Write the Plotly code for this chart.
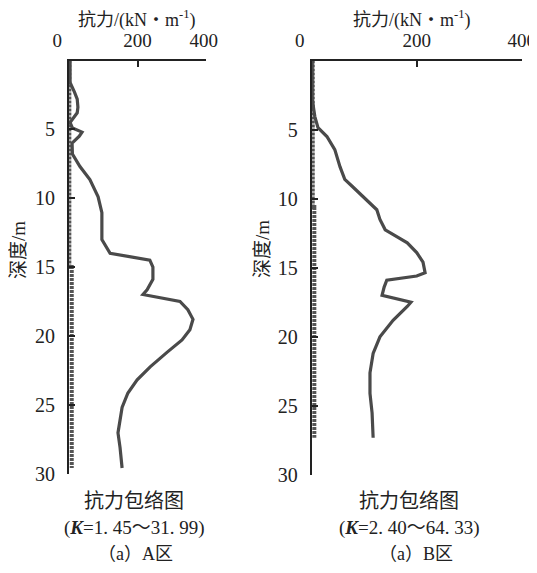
import plotly.graph_objects as go

# ---- data ----
depth_A = [0, 1.6, 2.3, 2.8, 3.4, 3.8, 4.5, 4.9, 5.2, 5.5, 6.0, 6.8, 7.7, 8.65, 9.9, 11.05,
           13.0, 14.0, 14.5, 15.0, 15.9, 16.65, 17.0, 17.2, 17.5, 18.1, 18.8, 19.55, 20.3,
           21.2, 22.25, 23.2, 24.15, 25.2, 26.1, 27.05, 28.1, 29.6]
force_A = [3, 3, 16, 24, 26, 24, 3, 10, 38, 30, 9, 10, 32, 61, 85, 96,
           96, 120, 236, 245, 245, 228, 216, 257, 324, 347, 362, 353, 330,
           286, 237, 199, 172, 155, 149, 143, 149, 155]

depth_B = [0, 2.8, 4.06, 4.86, 5.5, 6.45, 7.7, 8.6, 9.1, 10.1, 10.8, 11.5, 12.25, 12.75,
           13.2, 13.9, 14.6, 15.36, 15.6, 15.9, 16.4, 17.0, 17.5, 17.8, 18.8, 20.0, 21.2,
           22.6, 24.1, 25.5, 27.3]
force_B = [1, 1, 6, 12, 29, 44, 54, 63, 77, 105, 124, 130, 140, 162,
           182, 200, 212, 216, 200, 143, 138, 134, 189, 182, 155, 130, 117,
           111, 111, 115, 117]

low_depth_A = [0, 15, 15, 29.6]
low_force_A = [1, 1, 8, 8]
low_depth_B = [0, 10.6, 10.6, 27.3]
low_force_B = [2, 2, 5, 5]

x_ticks = [0, 200, 400]
NB = "\u00a0"
x_ticktext_A = ["0" + NB * 5, "200", "400" + NB]
x_ticktext_B = ["0" + NB * 5, "200", "400"]
y_ticks = [0, 5, 10, 15, 20, 25, 30]
y_ticktext = ["", "5", "10", "15", "20", "25", "30"]

x_title = "抗力/(kN・m<sup>-1</sup>)"
y_title = "深度/m"
sub1 = "抗力包络图"
k_A = "(<b><i>K</i></b>=1. 45～31. 99)"
k_B = "(<b><i>K</i></b>=2. 40～64. 33)"
cap_A = "（a）A区"
cap_B = "（a）B区"

# page body has an 8px default margin; the figure is sized to fit the window
OFF = 8
W, H = 537 - OFF, 573 - 2 * OFF
FONT = "Liberation Serif, Noto Sans CJK SC"
CURVE = "#4a4a4a"

fig = go.Figure()
fig.add_trace(go.Scatter(x=low_force_A, y=low_depth_A, mode="lines", xaxis="x", yaxis="y",
                         line=dict(color="#555555", width=4, dash="3px,1px"), showlegend=False))
fig.add_trace(go.Scatter(x=force_A, y=depth_A, mode="lines", xaxis="x", yaxis="y",
                         line=dict(color=CURVE, width=3.2), showlegend=False))
fig.add_trace(go.Scatter(x=low_force_B, y=low_depth_B, mode="lines", xaxis="x2", yaxis="y2",
                         line=dict(color="#555555", width=4, dash="3px,1px"), showlegend=False))
fig.add_trace(go.Scatter(x=force_B, y=depth_B, mode="lines", xaxis="x2", yaxis="y2",
                         line=dict(color=CURVE, width=3.2), showlegend=False))

def px(x):
    return (x - OFF) / W

def py(y):
    return 1 - (y - OFF) / H

xcommon = dict(range=[0, 400], side="top", tickvals=x_ticks,
               ticks="inside", ticklen=6, automargin=False, ticklabeloverflow="allow",
               tickwidth=1.5, tickcolor="#222", showline=True, linecolor="#222", linewidth=2,
               showgrid=False, zeroline=False, tickfont=dict(family=FONT, size=19, color="#222"),
               ticklabelstandoff=4)
ycommon = dict(range=[30, 0], tickvals=y_ticks, ticktext=y_ticktext, ticks="inside", ticklen=6,
               automargin=False, ticklabeloverflow="allow",
               tickwidth=1.5, tickcolor="#222", showline=True, linecolor="#222", linewidth=2,
               showgrid=False, zeroline=False, tickfont=dict(family=FONT, size=20, color="#222"),
               ticklabelstandoff=8)

fig.update_layout(
    width=W, height=H, margin=dict(l=0, r=0, t=0, b=0, autoexpand=False),
    paper_bgcolor="white", plot_bgcolor="white",
    font=dict(family=FONT, color="#222"),
    xaxis=dict(domain=[px(69), px(206)], anchor="y", ticktext=x_ticktext_A, **xcommon),
    yaxis=dict(domain=[py(473.5), py(60.5)], anchor="x", **ycommon),
    xaxis2=dict(domain=[px(311.7), px(521.7)], anchor="y2", ticktext=x_ticktext_B, **xcommon),
    yaxis2=dict(domain=[py(475), py(60.5)], anchor="x2", **ycommon),
)

ann = []
def txt(x, y, t, size=19, angle=0):
    ann.append(dict(x=px(x), y=py(y), xref="paper", yref="paper", text=t, showarrow=False,
                    xanchor="center", yanchor="middle", textangle=angle,
                    font=dict(family=FONT, size=size, color="#222")))

txt(137, 19, x_title, 18)
txt(412, 19, x_title, 18)
txt(18, 250, y_title, 19, -90)
txt(262, 249, y_title, 19, -90)
txt(134, 501, sub1, 20)
txt(409, 501, sub1, 20)
txt(134, 528, k_A, 19)
txt(409, 528, k_B, 19)
txt(135, 554, cap_A, 18)
txt(416, 554, cap_B, 18)
fig.update_layout(annotations=ann)

fig.write_html("out.html")
